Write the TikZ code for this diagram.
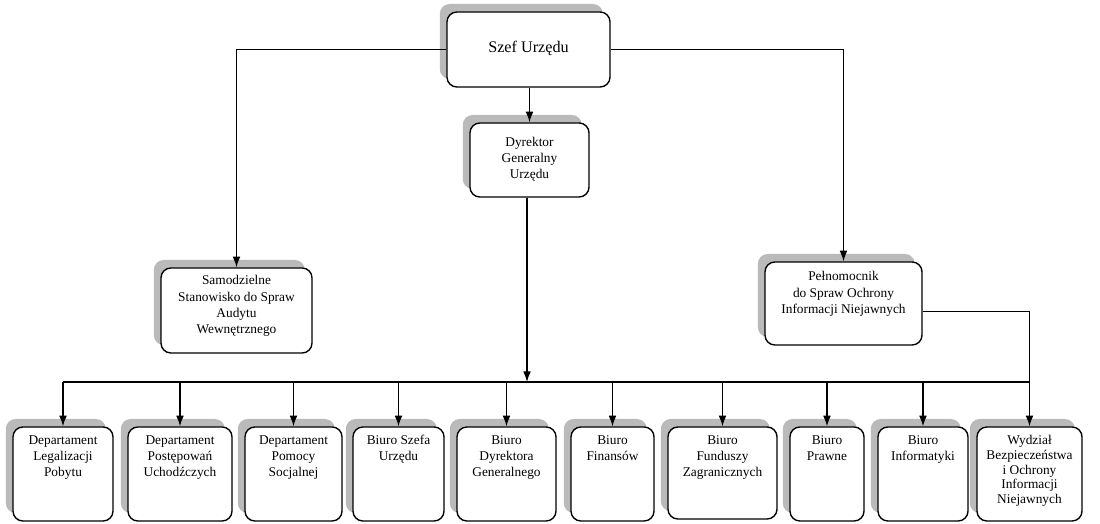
\documentclass[tikz,border=0pt]{standalone}
\usepackage{fontspec}
\setmainfont{Liberation Serif}
\usetikzlibrary{positioning,fit,shadows,arrows.meta}

\tikzset{
  box/.style={draw, line width=1pt, rounded corners=7pt, fill=white, inner sep=0pt,
    drop shadow={shadow xshift=-0.18cm, shadow yshift=0.2cm, opacity=1, fill=black!27}},
  txt/.style={align=center, font=\fontsize{9.5}{11.5}\selectfont, inner sep=0pt, anchor=north},
  arr/.style={-{Latex[length=7.5pt,width=5.5pt]}, line width=0.9pt},
  line/.style={line width=0.9pt}
}

\begin{document}
\begin{tikzpicture}[x=0.025cm,y=-0.025cm]
  \useasboundingbox (0,0) rectangle (1100,524);

  % upper part
  \node[box, fit={(447,12) (610,87)}] (szef) {};
  \node[txt, font=\fontsize{11.5}{13}\selectfont, anchor=center] (szeft) at ([yshift=0.03cm]szef.center) {Szef Urzędu};
  \node[box, fit={(470,123) (589,197)}] (dyr) {};
  \node[txt, below=0.37cm of dyr.north] (dyrt) {Dyrektor\\Generalny\\Urzędu};
  \node[box, fit={(161,268) (312,353)}] (sam) {};
  \node[txt, below=0.2cm of sam.north] (samt) {Samodzielne\\Stanowisko do Spraw\\Audytu\\Wewnętrznego};
  \node[box, fit={(765,262) (922,345)}] (peln) {};
  \node[txt, below=0.25cm of peln.north] (pelnt) {Pełnomocnik\\do Spraw Ochrony\\Informacji Niejawnych};

  % lower row
  \node[box, fit={(13,427) (113,521)}] (dep1) {};
  \node[box, fit={(128,427) (232,521)}] (dep2) {};
  \node[box, fit={(245,427) (342,521)}] (dep3) {};
  \node[box, fit={(353,427) (444,521)}] (biu1) {};
  \node[box, fit={(457,427) (556,521)}] (biu2) {};
  \node[box, fit={(571,427) (654,521)}] (biu3) {};
  \node[box, fit={(668,427) (777,519)}] (biu4) {};
  \node[box, fit={(790,427) (864,521)}] (biu5) {};
  \node[box, fit={(878,427) (968,521)}] (biu6) {};
  \node[box, fit={(977,427) (1082,521)}] (wydz) {};
  \node[txt, below=0.22cm of dep1.north] (dep1t) {Departament\\Legalizacji\\Pobytu};
  \node[txt, below=0.22cm of dep2.north] (dep2t) {Departament\\Postępowań\\Uchodźczych};
  \node[txt, below=0.22cm of dep3.north] (dep3t) {Departament\\Pomocy\\Socjalnej};
  \node[txt, below=0.22cm of biu1.north] (biu1t) {Biuro Szefa\\Urzędu};
  \node[txt, below=0.22cm of biu2.north] (biu2t) {Biuro\\Dyrektora\\Generalnego};
  \node[txt, below=0.22cm of biu3.north] (biu3t) {Biuro\\Finansów};
  \node[txt, below=0.22cm of biu4.north] (biu4t) {Biuro\\Funduszy\\Zagranicznych};
  \node[txt, below=0.22cm of biu5.north] (biu5t) {Biuro\\Prawne};
  \node[txt, below=0.22cm of biu6.north] (biu6t) {Biuro\\Informatyki};
  \node[txt, font=\fontsize{9.5}{10.5}\selectfont, below=0.22cm of wydz.north] (wydzt) {Wydział\\Bezpieczeństwa\\i Ochrony\\Informacji\\Niejawnych};

  % connectors
  \coordinate (bus) at (527,382);
  \draw[arr] (dyr.north |- szef.south) -- (dyr.north);
  \draw[arr] (szef.west) -| (sam.north);
  \draw[arr] (szef.east) -| (peln.north);
  \draw[arr] (dyr.south -| bus) -- (bus);
  \draw[line] (dep1.north |- bus) -- (wydz.north |- bus);
  \draw[arr] ([yshift=-0.2cm]peln.east) -| (wydz.north);
  \foreach \n in {dep1,dep2,dep3,biu1,biu2,biu3,biu4,biu5,biu6}
    \draw[arr] (\n.north |- bus) -- (\n.north);
\end{tikzpicture}
\end{document}
